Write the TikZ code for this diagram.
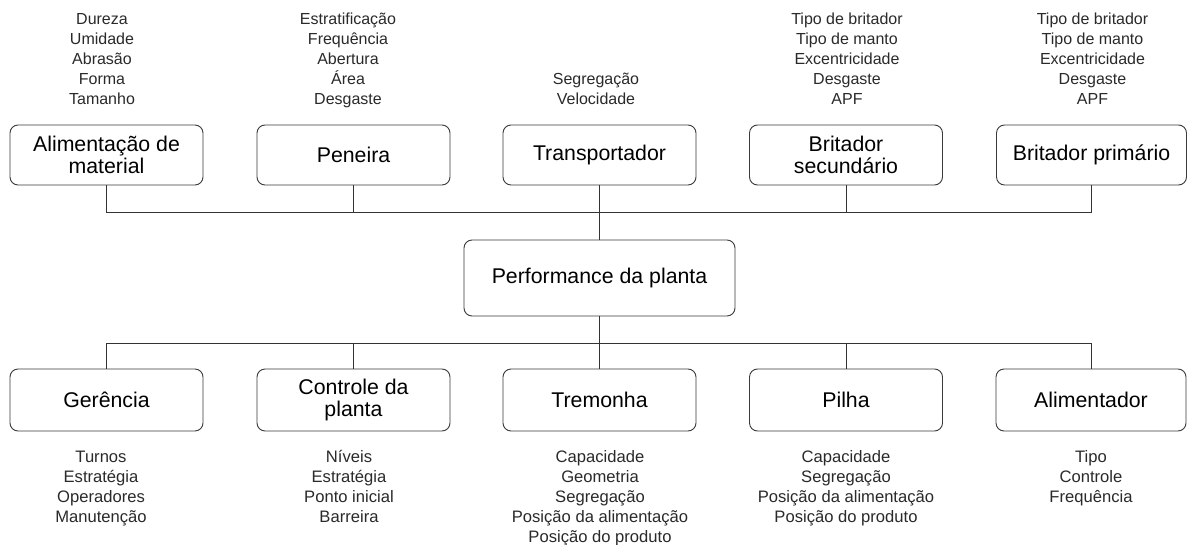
\documentclass[tikz,border=0pt]{standalone}
\usepackage{fontspec}
\setmainfont{Liberation Sans}
\definecolor{boxcol}{HTML}{3A3A3A}
\definecolor{linecol}{HTML}{333333}
\definecolor{notecol}{HTML}{2A2A2A}
\begin{document}
\begin{tikzpicture}[x=1pt,y=-1pt,
  box/.style={draw=boxcol, line width=0.9pt, rounded corners=8pt,
    minimum width=193pt, minimum height=60pt, inner sep=0pt, align=center,
    font=\fontsize{21.3}{21.5}\selectfont, text=black},
  lowbox/.style={box, minimum height=62pt},
  note/.style={align=center, inner sep=0pt,
    font=\fontsize{16}{20}\selectfont, text=notecol},
  lownote/.style={note, font=\fontsize{16.6}{20}\selectfont},
  link/.style={draw=linecol, line width=0.9pt}]
\useasboundingbox[fill=white] (0,0) rectangle (1187,544);

% top row
\node[box] (alim) at (106.5,155) {Alimentação de\\material};
\node[box] (pen) at (353.5,155) {Peneira};
\node[box] (trans) at (599.5,155) {Transportador};
\node[box] (bsec) at (846,155) {Britador\\secundário};
\node[box, minimum width=190pt] (bprim) at (1091.5,155) {Britador primário};

% centre
\node[box, minimum width=271pt, minimum height=76pt] (perf) at (599.5,278) {Performance da planta};

% bottom row
\node[lowbox] (ger) at (106.5,400) {Gerência};
\node[lowbox] (ctrl) at (353.5,400) {Controle da\\planta};
\node[lowbox] (trem) at (599.5,400) {Tremonha};
\node[lowbox] (pilha) at (846,400) {Pilha};
\node[lowbox, minimum width=190pt] (alimt) at (1091,400) {Alimentador};

% top notes
\node[note, anchor=south] (n1) at (102,111) {Dureza\\Umidade\\Abrasão\\Forma\\Tamanho\strut};
\node[note, anchor=south] (n2) at (348,111) {Estratificação\\Frequência\\Abertura\\Área\\Desgaste\strut};
\node[note, anchor=south] (n3) at (596,111) {Segregação\\Velocidade\strut};
\node[note, anchor=south] (n4) at (847,111) {Tipo de britador\\Tipo de manto\\Excentricidade\\Desgaste\\APF\strut};
\node[note, anchor=south] (n5) at (1092.5,111) {Tipo de britador\\Tipo de manto\\Excentricidade\\Desgaste\\APF\strut};

% bottom notes
\node[lownote, anchor=north] (m1) at (101,448) {\strut Turnos\\Estratégia\\Operadores\\Manutenção};
\node[lownote, anchor=north] (m2) at (349,448) {\strut Níveis\\Estratégia\\Ponto inicial\\Barreira};
\node[lownote, anchor=north] (m3) at (600,448) {\strut Capacidade\\Geometria\\Segregação\\Posição da alimentação\\Posição do produto};
\node[lownote, anchor=north] (m4) at (846,448) {\strut Capacidade\\Segregação\\Posição da alimentação\\Posição do produto};
\node[lownote, anchor=north] (m5) at (1091,448) {\strut Tipo\\Controle\\Frequência};

% connectors
\coordinate (tbus) at (599.5,212);
\coordinate (bbus) at (599.5,343);
\draw[link] (alim.south) |- (tbus);
\draw[link] (bprim.south) |- (tbus);
\draw[link] (pen.south) -- (pen.south |- tbus);
\draw[link] (bsec.south) -- (bsec.south |- tbus);
\draw[link] (trans.south) -- (perf.north);
\draw[link] (perf.south) -- (trem.north);
\draw[link] (ger.north) |- (bbus);
\draw[link] (alimt.north) |- (bbus);
\draw[link] (ctrl.north) -- (ctrl.north |- bbus);
\draw[link] (pilha.north) -- (pilha.north |- bbus);
\end{tikzpicture}
\end{document}
